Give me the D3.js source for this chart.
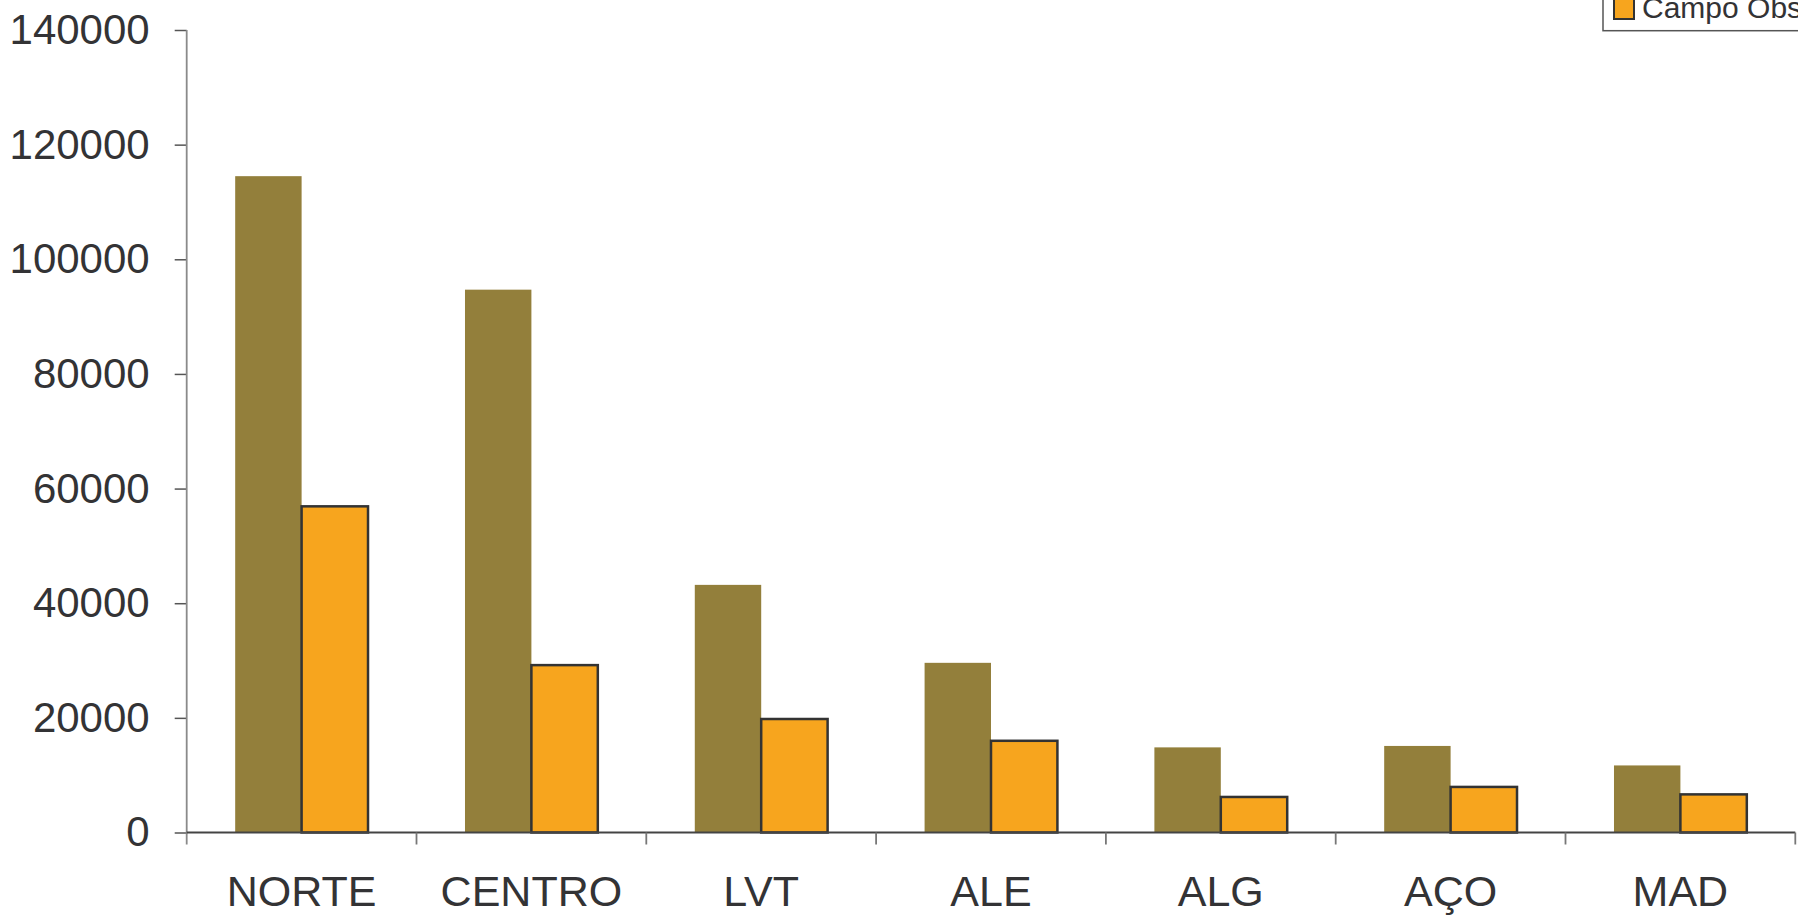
<!DOCTYPE html>
<html>
<head>
<meta charset="utf-8">
<script src="https://cdn.jsdelivr.net/npm/d3@7"></script>
<style>
  html, body { margin: 0; padding: 0; background: #fff; overflow: hidden; }
  svg { display: block; font-family: "Liberation Sans", Arial, Helvetica, sans-serif; }
</style>
</head>
<body>
<svg id="chart" width="1798" height="916"></svg>
<script>
const categories = ["NORTE", "CENTRO", "LVT", "ALE", "ALG", "AÇO", "MAD"];
const seriesNames = ["Série 1", "Campo Observado"];
const series1 = [114500, 94700, 43200, 29600, 14850, 15100, 11700];
const series2 = [56900, 29200, 19800, 16000, 6200, 7950, 6650];
const yTicks = [0, 20000, 40000, 60000, 80000, 100000, 120000, 140000];

const colors = ["#937F3B", "#F7A51E"];
const textColor = "#333335";

const svg = d3.select("#chart");

const x0 = d3.scaleBand().domain(categories).range([186.7, 1795.3]).padding(0);
const bw = x0.bandwidth();
const x1 = d3.scaleBand().domain([0, 1]).range([bw * 0.211, bw * 0.789]).padding(0);
const y = d3.scaleLinear().domain([0, 140000]).range([832.5, 30]);

// Y axis
const yAxis = d3.axisLeft(y).tickValues(yTicks).tickSize(12).tickPadding(25).tickFormat(d3.format("d"));
const gy = svg.append("g").attr("transform", "translate(186.7,0)").call(yAxis);
gy.select(".domain").remove();
gy.selectAll(".tick line").attr("stroke", "#555").attr("stroke-width", 1.5);
gy.selectAll(".tick text").attr("fill", textColor).style("font-size", "42px")
  .style("font-family", '"Liberation Sans", Arial, sans-serif');
svg.append("line").attr("x1", 186.7).attr("x2", 186.7).attr("y1", y(140000)).attr("y2", y(0) + 12)
  .attr("stroke", "#8a8a8a").attr("stroke-width", 1.8);

// Bars
const groups = svg.append("g").selectAll("g").data(categories).join("g")
  .attr("transform", d => `translate(${x0(d)},0)`);

groups.append("rect")
  .attr("x", x1(0)).attr("width", x1.bandwidth())
  .attr("y", (d, i) => y(series1[i])).attr("height", (d, i) => y(0) - y(series1[i]))
  .attr("fill", colors[0]);

groups.append("rect")
  .attr("x", x1(1)).attr("width", x1.bandwidth())
  .attr("y", (d, i) => y(series2[i])).attr("height", (d, i) => y(0) - y(series2[i]))
  .attr("fill", colors[1]).attr("stroke", "#333").attr("stroke-width", 2.5);

// X axis
svg.append("line").attr("x1", 186.7).attr("x2", 1795.3).attr("y1", y(0)).attr("y2", y(0))
  .attr("stroke", "#444").attr("stroke-width", 1.8);
const boundaries = categories.map(c => x0(c)).concat([x0.range()[1]]);
svg.append("g").selectAll("line").data(boundaries.slice(1)).join("line")
  .attr("x1", d => d).attr("x2", d => d).attr("y1", y(0)).attr("y2", y(0) + 12)
  .attr("stroke", "#777").attr("stroke-width", 1.8);
svg.append("g").selectAll("text").data(categories).join("text")
  .attr("x", d => x0(d) + bw / 2).attr("y", 906)
  .attr("text-anchor", "middle").attr("fill", textColor).style("font-size", "43px")
  .text(d => d);

// Legend (partially outside the view, as in the reference)
const lg = svg.append("g");
lg.append("rect").attr("x", 1603).attr("y", -40).attr("width", 260).attr("height", 70.7)
  .attr("fill", "#fff").attr("stroke", "#555").attr("stroke-width", 1.5);
lg.append("rect").attr("x", 1614).attr("y", -1).attr("width", 20).attr("height", 20)
  .attr("fill", colors[1]).attr("stroke", "#333").attr("stroke-width", 2);
lg.append("text").attr("x", 1642).attr("y", 18).attr("fill", textColor)
  .style("font-size", "30px").text(seriesNames[1]);
</script>
</body>
</html>
